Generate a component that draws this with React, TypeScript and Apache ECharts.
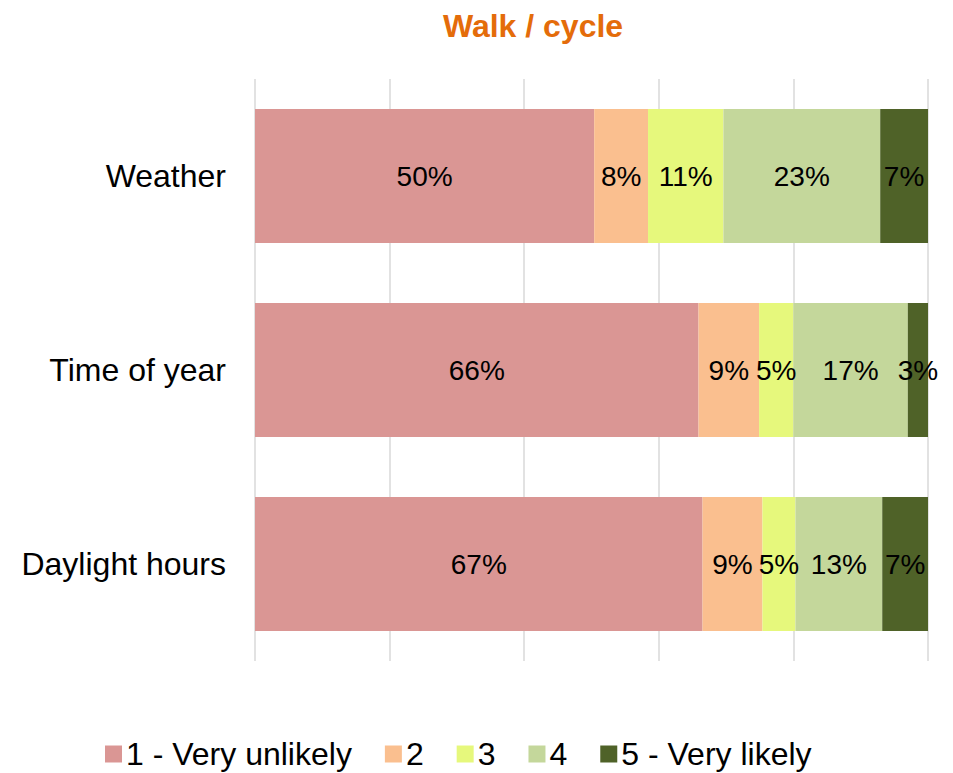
import React, { useEffect, useRef } from "react";
import * as echarts from "echarts";

const categories = ["Weather", "Time of year", "Daylight hours"];
const seriesNames = ["1 - Very unlikely", "2", "3", "4", "5 - Very likely"];
const veryUnlikely = [50.4, 65.9, 66.5];
const two = [8.0, 9.0, 8.9];
const three = [11.2, 5.1, 4.9];
const four = [23.3, 17.0, 12.9];
const veryLikely = [7.1, 3.0, 6.8];
const colors = ["#DA9694", "#FABF8F", "#E6F87C", "#C4D79B", "#4F6228"];
const xTicks = [0, 20, 40, 60, 80, 100];

const FONT = "'Liberation Sans', Arial, sans-serif";

export default function App() {
  const ref = useRef<HTMLDivElement>(null);
  useEffect(() => {
    if (!ref.current) return;
    const chart = echarts.init(ref.current, null, { renderer: "svg" });
    const values = [veryUnlikely, two, three, four, veryLikely];
    chart.setOption({
      animation: false,
      color: colors,
      textStyle: { fontFamily: FONT },
      title: {
        text: "Walk / cycle",
        left: 528,
        textAlign: "center",
        top: 5,
        textStyle: { color: "#E46C0A", fontSize: 32, fontWeight: "bold", fontFamily: FONT },
      },
      legend: {
        left: 100,
        top: 733,
        itemWidth: 17,
        itemHeight: 17,
        itemGap: 33,
        icon: "rect",
        textStyle: { fontSize: 32, color: "#000", fontFamily: FONT, padding: [0, 0, 0, -1] },
        data: seriesNames,
      },
      grid: { left: 255, right: 25, top: 79, bottom: 112, containLabel: false },
      xAxis: {
        type: "value",
        min: xTicks[0],
        max: xTicks[xTicks.length - 1],
        interval: 20,
        axisLabel: { show: false },
        axisLine: { show: false },
        axisTick: { show: false },
        splitLine: { show: true, lineStyle: { color: "#D9D9D9", width: 1.5 } },
      },
      yAxis: {
        type: "category",
        data: categories,
        inverse: true,
        axisLine: { show: false },
        axisTick: { show: false },
        axisLabel: { fontSize: 32, color: "#000", margin: 29, fontFamily: FONT },
      },
      series: seriesNames.map((name, i) => ({
        name,
        type: "bar",
        stack: "total",
        barWidth: 134,
        data: values[i],
        label: {
          show: true,
          position: "inside",
          color: "#000",
          fontSize: 28,
          fontFamily: FONT,
          formatter: (p: any) => Math.round(p.value) + "%",
        },
      })),
    });
    return () => chart.dispose();
  }, []);
  return (
    <div
      ref={ref}
      style={{ position: "fixed", left: 0, top: 0, width: 953, height: 773, background: "#fff" }}
    />
  );
}
